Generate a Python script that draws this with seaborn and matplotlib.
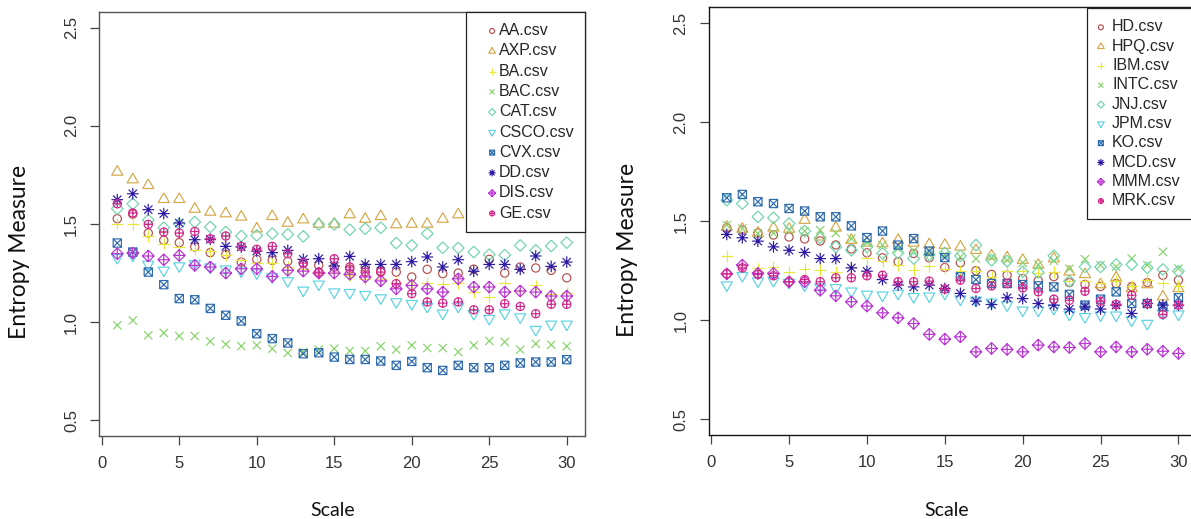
import numpy as np
import pandas as pd
import matplotlib
matplotlib.use("Agg")
import matplotlib.pyplot as plt
from matplotlib.path import Path
import seaborn as sns

# ---------------- data ----------------
scale = list(range(1, 31))

left_names = ["AA.csv", "AXP.csv", "BA.csv", "BAC.csv", "CAT.csv",
              "CSCO.csv", "CVX.csv", "DD.csv", "DIS.csv", "GE.csv"]
right_names = ["HD.csv", "HPQ.csv", "IBM.csv", "INTC.csv", "JNJ.csv",
               "JPM.csv", "KO.csv", "MCD.csv", "MMM.csv", "MRK.csv"]

AA = [1.527, 1.55, 1.454, 1.417, 1.405, 1.383, 1.354, 1.345, 1.306, 1.32,
      1.315, 1.31, 1.30, 1.29, 1.28, 1.27, 1.28, 1.26, 1.255, 1.23,
      1.269, 1.247, 1.25, 1.27, 1.32, 1.25, 1.281, 1.276, 1.264, 1.226]
AXP = [1.765, 1.726, 1.697, 1.626, 1.626, 1.576, 1.561, 1.553, 1.536, 1.476,
       1.539, 1.505, 1.522, 1.500, 1.500, 1.548, 1.525, 1.539, 1.497, 1.500,
       1.500, 1.525, 1.548, 1.59, 1.59, 1.70, 1.55, 1.709, 1.625, 1.607]
BA = [1.502, 1.50, 1.44, 1.40, 1.383, 1.37, 1.36, 1.34, 1.318, 1.30,
      1.30, 1.28, 1.27, 1.25, 1.25, 1.24, 1.22, 1.22, 1.20, 1.19,
      1.20, 1.196, 1.20, 1.153, 1.128, 1.201, 1.16, 1.187, 1.145, 1.15]
BAC = [0.984, 1.009, 0.933, 0.945, 0.929, 0.929, 0.902, 0.887, 0.878, 0.882,
       0.865, 0.843, 0.848, 0.860, 0.865, 0.853, 0.853, 0.877, 0.860, 0.882,
       0.868, 0.868, 0.848, 0.882, 0.904, 0.899, 0.860, 0.890, 0.885, 0.877]
CAT = [1.578, 1.603, 1.52, 1.481, 1.50, 1.510, 1.485, 1.459, 1.439, 1.442,
       1.451, 1.447, 1.437, 1.498, 1.498, 1.471, 1.476, 1.481, 1.403, 1.391,
       1.451, 1.379, 1.378, 1.357, 1.344, 1.342, 1.391, 1.366, 1.388, 1.405]
CSCO = [1.328, 1.340, 1.294, 1.264, 1.286, 1.298, 1.28, 1.27, 1.26, 1.25,
        1.23, 1.210, 1.162, 1.193, 1.153, 1.150, 1.140, 1.123, 1.103, 1.094,
        1.080, 1.045, 1.080, 1.043, 1.018, 1.046, 1.026, 0.962, 0.989, 0.989]
CVX = [1.403, 1.357, 1.255, 1.191, 1.120, 1.114, 1.070, 1.035, 1.006, 0.941,
       0.916, 0.894, 0.839, 0.844, 0.822, 0.810, 0.810, 0.802, 0.780, 0.800,
       0.768, 0.754, 0.780, 0.768, 0.768, 0.780, 0.792, 0.797, 0.797, 0.809]
DD = [1.624, 1.654, 1.573, 1.553, 1.505, 1.420, 1.422, 1.386, 1.383, 1.362,
      1.354, 1.366, 1.320, 1.323, 1.286, 1.335, 1.294, 1.294, 1.294, 1.308,
      1.332, 1.281, 1.318, 1.259, 1.294, 1.294, 1.269, 1.337, 1.284, 1.306]
DIS = [1.349, 1.352, 1.337, 1.318, 1.340, 1.289, 1.281, 1.250, 1.272, 1.272,
       1.233, 1.264, 1.26, 1.250, 1.250, 1.244, 1.230, 1.210, 1.170, 1.187,
       1.170, 1.153, 1.221, 1.179, 1.179, 1.153, 1.159, 1.153, 1.133, 1.133]
GE = [1.603, 1.556, 1.498, 1.459, 1.454, 1.462, 1.425, 1.439, 1.386, 1.371,
      1.386, 1.349, 1.301, 1.255, 1.323, 1.281, 1.255, 1.255, 1.196, 1.145,
      1.103, 1.097, 1.103, 1.063, 1.063, 1.094, 1.08, 1.043, 1.091, 1.091]

HD = [1.466, 1.455, 1.44, 1.43, 1.42, 1.41, 1.40, 1.38, 1.36, 1.34,
      1.315, 1.295, 1.337, 1.315, 1.266, 1.290, 1.25, 1.231, 1.227, 1.21,
      1.20, 1.22, 1.19, 1.180, 1.17, 1.185, 1.17, 1.19, 1.227, 1.202]
HPQ = [1.47, 1.46, 1.44, 1.466, 1.46, 1.505, 1.421, 1.466, 1.404, 1.39,
       1.387, 1.404, 1.39, 1.382, 1.379, 1.370, 1.353, 1.325, 1.315, 1.303,
       1.278, 1.311, 1.244, 1.231, 1.180, 1.214, 1.160, 1.180, 1.118, 1.16]
IBM = [1.325, 1.28, 1.261, 1.269, 1.244, 1.258, 1.253, 1.244, 1.27, 1.315,
       1.30, 1.28, 1.253, 1.274, 1.26, 1.25, 1.25, 1.22, 1.25, 1.25,
       1.24, 1.244, 1.20, 1.20, 1.19, 1.20, 1.173, 1.202, 1.19, 1.173]
INTC = [1.48, 1.463, 1.438, 1.44, 1.455, 1.45, 1.455, 1.44, 1.412, 1.39,
        1.38, 1.36, 1.35, 1.33, 1.33, 1.32, 1.31, 1.315, 1.303, 1.29,
        1.28, 1.30, 1.26, 1.308, 1.278, 1.27, 1.311, 1.278, 1.345, 1.261]
JNJ = [1.606, 1.589, 1.522, 1.517, 1.488, 1.45, 1.416, 1.37, 1.353, 1.37,
       1.337, 1.34, 1.311, 1.33, 1.34, 1.325, 1.379, 1.303, 1.298, 1.244,
       1.241, 1.325, 1.197, 1.269, 1.269, 1.281, 1.281, 1.264, 1.256, 1.247]
JPM = [1.177, 1.224, 1.197, 1.20, 1.19, 1.177, 1.168, 1.163, 1.146, 1.130,
       1.126, 1.135, 1.118, 1.121, 1.135, 1.106, 1.10, 1.09, 1.076, 1.050,
       1.050, 1.059, 1.029, 1.017, 1.025, 1.025, 1.000, 0.983, 1.034, 1.030]
KO = [1.618, 1.635, 1.598, 1.589, 1.564, 1.551, 1.522, 1.522, 1.476, 1.417,
      1.450, 1.379, 1.412, 1.349, 1.316, 1.219, 1.205, 1.185, 1.185, 1.180,
      1.173, 1.168, 1.130, 1.076, 1.106, 1.143, 1.084, 1.084, 1.067, 1.113]
MCD = [1.433, 1.416, 1.399, 1.370, 1.353, 1.342, 1.311, 1.311, 1.264, 1.247,
       1.205, 1.177, 1.168, 1.177, 1.160, 1.135, 1.096, 1.079, 1.113, 1.109,
       1.084, 1.076, 1.056, 1.067, 1.056, 1.076, 1.034, 1.084, 1.076, 1.076]
MMM = [1.234, 1.278, 1.236, 1.236, 1.194, 1.194, 1.151, 1.123, 1.093, 1.071,
       1.037, 1.012, 0.983, 0.928, 0.904, 0.916, 0.840, 0.857, 0.852, 0.840,
       0.874, 0.865, 0.862, 0.882, 0.840, 0.865, 0.840, 0.853, 0.843, 0.832]
MRK = [1.234, 1.264, 1.231, 1.224, 1.194, 1.205, 1.194, 1.214, 1.214, 1.224,
       1.227, 1.194, 1.194, 1.197, 1.157, 1.202, 1.160, 1.173, 1.185, 1.163,
       1.143, 1.106, 1.10, 1.146, 1.096, 1.079, 1.126, 1.084, 1.029, 1.076]

left_values = [AA, AXP, BA, BAC, CAT, CSCO, CVX, DD, DIS, GE]
right_values = [HD, HPQ, IBM, INTC, JNJ, JPM, KO, MCD, MMM, MRK]

colors = ["#b4504f", "#d6a84a", "#e8e83c", "#86d46a", "#6fd6aa",
          "#5cd3e2", "#2f6cae", "#2c1aa5", "#b937d2", "#d2288c"]

# ---------------- R-style plotting symbols (pch 1..10) ----------------
def _poly(pts, closed=True):
    v = list(pts) + ([pts[0]] if closed else [])
    return Path(v, [Path.MOVETO] + [Path.LINETO] * (len(v) - 1))

def _seg(a, b):
    return Path([a, b], [Path.MOVETO, Path.LINETO])

def _circle(r):
    c = Path.unit_circle()
    return Path(c.vertices * r, c.codes)

R = 0.375
TR = 1.5551 * R
pch = {
    1: _circle(R),
    2: _poly([(0, TR), (0.866 * TR, -0.5 * TR), (-0.866 * TR, -0.5 * TR)]),
    3: Path.make_compound_path(_seg((-0.53, 0), (0.53, 0)), _seg((0, -0.53), (0, 0.53))),
    4: Path.make_compound_path(_seg((-R, -R), (R, R)), _seg((-R, R), (R, -R))),
    5: _poly([(0, 0.53), (0.53, 0), (0, -0.53), (-0.53, 0)]),
    6: _poly([(0, -TR), (0.866 * TR, 0.5 * TR), (-0.866 * TR, 0.5 * TR)]),
    7: Path.make_compound_path(_poly([(-R, -R), (R, -R), (R, R), (-R, R)]),
                               _seg((-R, -R), (R, R)), _seg((-R, R), (R, -R))),
    8: Path.make_compound_path(_seg((-R, -R), (R, R)), _seg((-R, R), (R, -R)),
                               _seg((-0.53, 0), (0.53, 0)), _seg((0, -0.53), (0, 0.53))),
    9: Path.make_compound_path(_poly([(0, 0.53), (0.53, 0), (0, -0.53), (-0.53, 0)]),
                               _seg((-0.53, 0), (0.53, 0)), _seg((0, -0.53), (0, 0.53))),
    10: Path.make_compound_path(_circle(R), _seg((-R, 0), (R, 0)), _seg((0, -R), (0, R))),
}
UNIT_PT = 7.9  # symbol unit in points

def msize(p):
    m = np.max(np.abs(p.vertices))
    return (2 * m * UNIT_PT) ** 2

# ---------------- figure ----------------
sns.set_theme(style="white")
plt.rcParams["font.family"] = ["Liberation Sans", "DejaVu Sans"]

W, H = 1191, 519
fig = plt.figure(figsize=(W / 100, H / 100), dpi=100)

def px_axes(l, r, t, b):
    return fig.add_axes([l / W, (H - b) / H, (r - l) / W, (b - t) / H])

ax1 = px_axes(99.3, 584.7, 12.0, 436.0)
ax2 = px_axes(708.7, 1196.5, 7.3, 435.0)

for ax, names, values, frame in [(ax1, left_names, left_values, "#555555"),
                                 (ax2, right_names, right_values, "#151515")]:
    for i, (name, vals) in enumerate(zip(names, values)):
        df = pd.DataFrame({"Scale": scale, "Entropy": vals})
        sns.scatterplot(data=df, x="Scale", y="Entropy", ax=ax, marker=pch[i + 1],
                        s=msize(pch[i + 1]), facecolor="none", edgecolor=colors[i],
                        linewidth=0.85, label=name, legend=False)
    ax.set_xlim(-0.16, 31.16)
    ax.set_ylim(0.42, 2.58)
    ax.set_xticks([0, 5, 10, 15, 20, 25, 30])
    ax.set_yticks([0.5, 1.0, 1.5, 2.0, 2.5])
    ax.set_yticklabels(["0.5", "1.0", "1.5", "2.0", "2.5"], rotation=90, va="center")
    ax.set_xlabel("")
    ax.set_ylabel("")
    ax.tick_params(axis="both", which="major", direction="out", length=6.5, width=0.9,
                   color="#444444", labelsize=12, labelcolor="#333333", pad=8,
                   bottom=True, left=True)
    for sp in ax.spines.values():
        sp.set_visible(True)
        sp.set_color(frame)
        sp.set_linewidth(1.0)

leg_kw = dict(scatterpoints=1, markerscale=0.6, fontsize=11.5, frameon=True,
              fancybox=False, edgecolor="#222222", framealpha=1.0,
              borderpad=0.7, borderaxespad=0)
lg1 = ax1.legend(loc="upper right", handlelength=1.85, handletextpad=-0.5,
                 labelspacing=0.33, **leg_kw)
lg1.get_frame().set_linewidth(0.9)

# right legend: anchored at its left/top edge, extends past the picture edge
x0 = (1087.3 - 708.7) / (1196.5 - 708.7)
lg2 = ax2.legend(loc="upper left", bbox_to_anchor=(x0, 1 - (8.3 - 7.3) / 427.7),
                 handlelength=0.3, handletextpad=0.55, labelspacing=0.27, **leg_kw)
lg2.get_frame().set_linewidth(0.9)

lab_font = dict(family=["Lato", "DejaVu Sans"], color="#111111")
fig.text(19.5 / W, 1 - 252 / H, "Entropy Measure", rotation=90, ha="center", va="center",
         fontsize=16.5, **lab_font)
fig.text(628 / W, 1 - 250 / H, "Entropy Measure", rotation=90, ha="center", va="center",
         fontsize=16.5, **lab_font)
fig.text(333 / W, 1 - 510 / H, "Scale", ha="center", va="center", fontsize=14, **lab_font)
fig.text(946.7 / W, 1 - 510 / H, "Scale", ha="center", va="center", fontsize=14, **lab_font)

fig.savefig("out.png", dpi=100)
